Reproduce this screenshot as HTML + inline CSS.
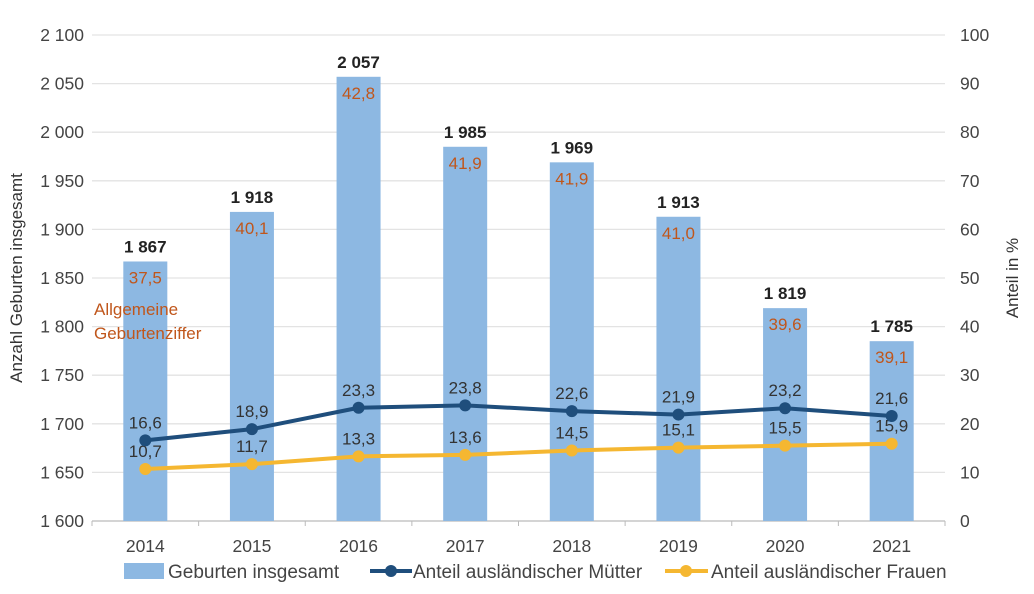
<!DOCTYPE html>
<html><head><meta charset="utf-8"><style>
body{margin:0;background:#fff;}
svg text{font-family:"Liberation Sans",sans-serif;}
</style></head><body>
<svg id="c" width="1034" height="589" xmlns="http://www.w3.org/2000/svg"></svg>
<script>
const years=["2014","2015","2016","2017","2018","2019","2020","2021"];
const births=[1867,1918,2057,1985,1969,1913,1819,1785];
const birthLabels=["1 867","1 918","2 057","1 985","1 969","1 913","1 819","1 785"];
const fertility=["37,5","40,1","42,8","41,9","41,9","41,0","39,6","39,1"];
const mothers=[16.6,18.9,23.3,23.8,22.6,21.9,23.2,21.6];
const women=[10.7,11.7,13.3,13.6,14.5,15.1,15.5,15.9];
const leftTicks=[1600,1650,1700,1750,1800,1850,1900,1950,2000,2050,2100];
const rightTicks=[0,10,20,30,40,50,60,70,80,90,100];

const svg=document.getElementById('c');
const NS="http://www.w3.org/2000/svg";
const X0=92,X1=945,YT=35,YB=521;
const step=(X1-X0)/years.length;
const xc=i=>X0+step*(i+0.5);
const yL=v=>YB-(v-1600)/500*(YB-YT);
const yR=v=>YB-v/100*(YB-YT);
const fmt=v=>v.toFixed(1).replace('.',',');
function el(t,a,txt){const e=document.createElementNS(NS,t);for(const k in a)e.setAttribute(k,a[k]);if(txt!==undefined)e.textContent=txt;svg.appendChild(e);return e;}

leftTicks.forEach(v=>{
 const g=el('line',{x1:X0,x2:X1,y1:yL(v),y2:yL(v),stroke:v===1600?'#bbb':'#e3e3e3','stroke-width':1.3});
 
 const t=el('text',{x:84,y:yL(v)+6,'text-anchor':'end','font-size':17.5,fill:'#444'},String(v).replace(/(\d)(\d{3})$/,'$1 $2'));
 
});
rightTicks.forEach(v=>{
 const t=el('text',{x:960,y:yR(v)+6,'font-size':17.5,fill:'#444'},String(v));
 
});
for(let i=0;i<=years.length;i++){
 const tk=el('line',{x1:X0+step*i,x2:X0+step*i,y1:YB,y2:YB+5,stroke:'#bbb'});
 
}
years.forEach((y,i)=>{
 const b=el('rect',{x:xc(i)-22,y:yL(births[i]),width:44,height:YB-yL(births[i]),fill:'#8db8e2'});
 
 const t=el('text',{x:xc(i),y:yL(births[i])-9,'text-anchor':'middle','font-size':17,'font-weight':'bold',fill:'#222'},birthLabels[i]);
 
 const f=el('text',{x:xc(i),y:yL(births[i])+22,'text-anchor':'middle','font-size':17,fill:'#c0561b'},fertility[i]);
 
 const xl=el('text',{x:xc(i),y:552,'text-anchor':'middle','font-size':17.5,fill:'#444'},y);
 
});
function series(arr,color,name){
 const p=el('polyline',{points:arr.map((v,i)=>xc(i)+','+yR(v)).join(' '),fill:'none',stroke:color,'stroke-width':4,'stroke-linejoin':'round'});
 
 arr.forEach((v,i)=>{
  const c=el('circle',{cx:xc(i),cy:yR(v),r:6,fill:color});
  
  const t=el('text',{x:xc(i),y:yR(v)-12,'text-anchor':'middle','font-size':17,fill:'#333'},fmt(v));
  
 });
}
series(women,'#f5b731','foreign-women');
series(mothers,'#1f4e7c','foreign-mothers');
const a1=el('text',{x:94,y:315,'font-size':17,fill:'#c0561b'},'Allgemeine');

const a2=el('text',{x:94,y:339,'font-size':17,fill:'#c0561b'},'Geburtenziffer');

const yt=el('text',{x:22,y:278,'text-anchor':'middle','font-size':17,fill:'#333',transform:'rotate(-90 22 278)'},'Anzahl  Geburten insgesamt');

const yt2=el('text',{x:1018,y:278,'text-anchor':'middle','font-size':17,fill:'#333',transform:'rotate(-90 1018 278)'},'Anteil in %');

// legend
const l1=el('rect',{x:124,y:563,width:40,height:16,fill:'#8db8e2'});

const l1t=el('text',{x:168,y:578,'font-size':19,fill:'#444'},'Geburten insgesamt');

const l2=el('line',{x1:370,x2:412,y1:571,y2:571,stroke:'#1f4e7c','stroke-width':4});

const l2c=el('circle',{cx:391,cy:571,r:6,fill:'#1f4e7c'});

const l2t=el('text',{x:413,y:578,'font-size':19,fill:'#444'},'Anteil ausländischer Mütter');

const l3=el('line',{x1:665,x2:708,y1:571,y2:571,stroke:'#f5b731','stroke-width':4});

const l3c=el('circle',{cx:686,cy:571,r:6,fill:'#f5b731'});

const l3t=el('text',{x:711,y:578,'font-size':19,fill:'#444'},'Anteil ausländischer Frauen');

</script>
</body></html>
